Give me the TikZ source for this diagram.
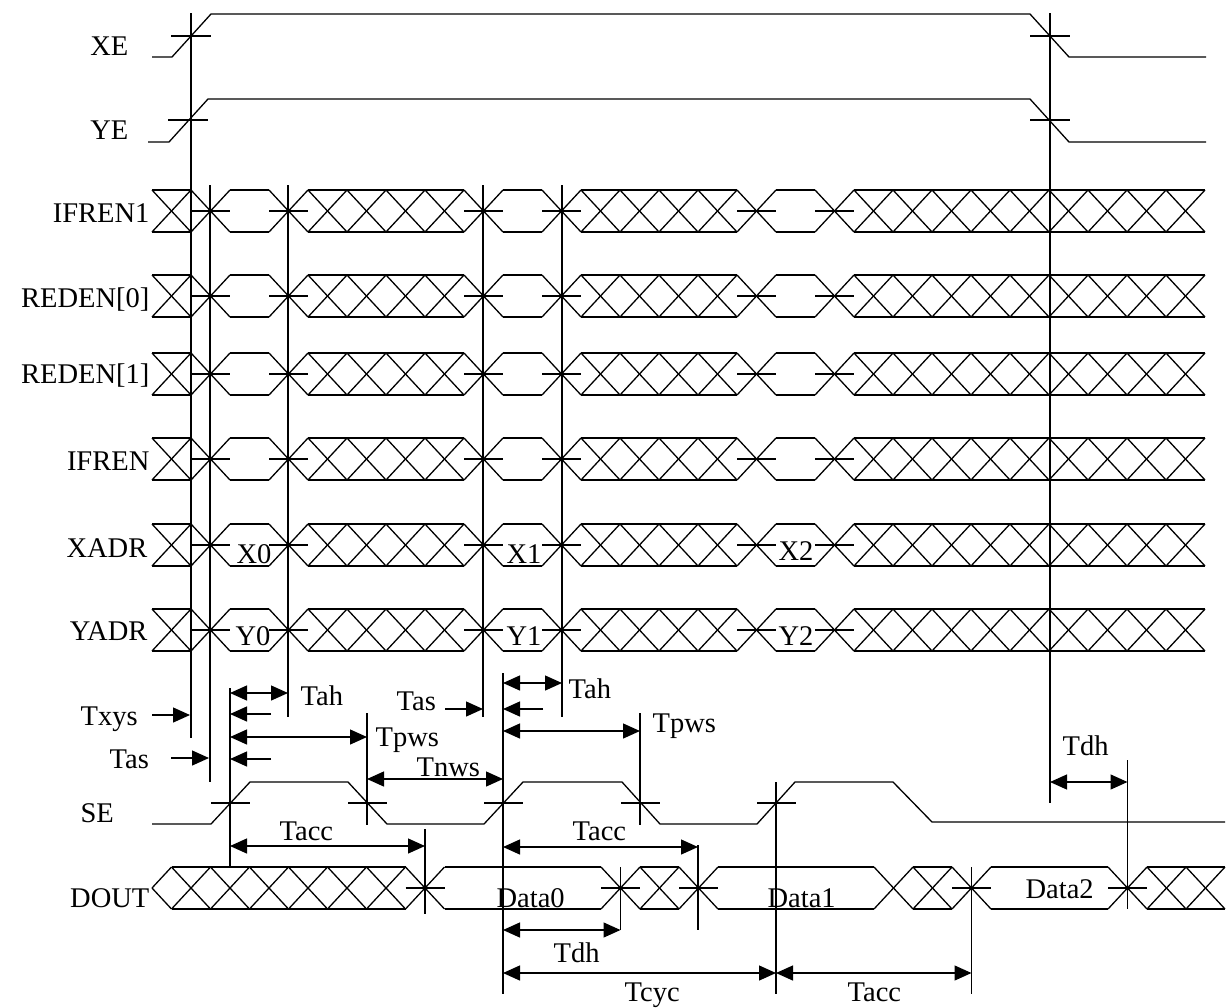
\documentclass[tikz,border=0pt]{standalone}
\usepackage{fontspec}
\setmainfont{Liberation Serif}
\usetikzlibrary{arrows.meta}
\newcommand\busrow[1]{%
  \pgfmathsetmacro\busyt{#1-21}\pgfmathsetmacro\busyb{#1+21}%
  \foreach \k in {0,1,3,4,5,6,7,8,10,11,12,13,14,15,17,18,...,26}{%
    \draw ({152+39*\k},\busyt) -- ({191+39*\k},\busyb);
    \draw ({152+39*\k},\busyb) -- ({191+39*\k},\busyt);}%
  \foreach \a/\b in {152/191,230/269,308/464,503/542,581/737,776/815,854/1205}{%
    \draw (\a,\busyt) -- (\b,\busyt); \draw (\a,\busyb) -- (\b,\busyb);}%
  \foreach \k in {1,3,8,10,15,17}{%
    \draw ({152+39*\k},#1) -- ({191+39*\k},#1);}%
}
\newcommand\doutx[1]{%
  \draw ({#1-19.5},867) -- ({#1+19.5},909);
  \draw ({#1-19.5},909) -- ({#1+19.5},867);}
\begin{document}
\begin{tikzpicture}[x=1pt,y=-1pt,line width=1.3pt,
  lbl/.style={font=\fontsize{28.5}{30}\selectfont, inner sep=0pt},
  tip/.style={-{Triangle[length=17pt,width=15pt]}},
  dtip/.style={{Triangle[length=17pt,width=15pt]}-{Triangle[length=17pt,width=15pt]}}]
\useasboundingbox (0,0) rectangle (1226,1007);

% ---- XE / YE ----
\draw (152,57) -- (172,57) -- (211,14) -- (1030,14) -- (1069,57) -- (1206,57);
\draw (171,36) -- (211,36); \draw (1030,36) -- (1070,36);
\draw (148,142) -- (169,142) -- (208,99) -- (1030,99) -- (1069,142) -- (1206,142);
\draw (168,120) -- (208,120); \draw (1030,120) -- (1070,120);

% ---- bus rows ----
\busrow{211}
\busrow{296}
\busrow{374}
\busrow{459}
\busrow{545}
\busrow{630}

% ---- SE ----
\draw (152,824) -- (211,824) -- (250,782) -- (348,782) -- (387,824) -- (484,824)
  -- (523,782) -- (622,782) -- (660,824) -- (757,824) -- (795,782) -- (893,782)
  -- (932,822) -- (1225,822);
\foreach \a/\b in {211/250,348/387,484/523,621/660,757/796}{\draw (\a,803) -- (\b,803);}

% ---- DOUT ----
\draw (152,888) -- (171.5,867); \draw (152,888) -- (171.5,909);
\foreach \c in {191,230,...,425}{\doutx{\c}}
\foreach \c in {620.5,659.5,698.5,893.5,932.5,971.5,1127.5,1166.5,1205.5}{\doutx{\c}}
\foreach \a/\b in {171.5/405.5,444.5/601,640/679,718/874,913/952,991/1108,1147/1225}{%
  \draw (\a,867) -- (\b,867); \draw (\a,909) -- (\b,909);}
\foreach \c in {425,620.5,698.5,971.5,1127.5}{\draw ({\c-19.5},888) -- ({\c+19.5},888);}

% ---- vertical reference lines ----
\foreach \x/\ya/\yb in {191/13/738, 210/185/782, 288/185/717, 483/185/717, 562/185/717,
  1050/13/803, 230/688/867, 367/713/825, 503/673/994, 640/713/825, 425/829/914,
  698/845/930, 620.5/867/930, 776/782/994, 971.5/867/994, 1127.5/760/909}{%
  \draw (\x,\ya) -- (\x,\yb);}

% ---- dimension arrows ----
\coordinate (a1) at (152,715); \coordinate (b1) at (190,715);
\draw[tip] (a1) -- (b1);
\coordinate (a2) at (171,758); \coordinate (b2) at (209,758);
\draw[tip] (a2) -- (b2);
\draw[dtip] (230,693) -- (288,693);
\draw[tip] (271,714) -- (230,714);
\draw[dtip] (230,737) -- (367,737);
\draw[tip] (271,759) -- (230,759);
\draw[dtip] (367,779) -- (503,779);
\draw[dtip] (230,846) -- (425,846);
\draw[tip] (445,709) -- (483,709);
\draw[dtip] (503,683) -- (562,683);
\draw[tip] (543,709) -- (503,709);
\draw[dtip] (503,731) -- (640,731);
\draw[dtip] (1050,782) -- (1127.5,782);
\draw[dtip] (503,847) -- (698,847);
\draw[dtip] (503,930) -- (620.5,930);
\draw[dtip] (503,973) -- (776,973);
\draw[dtip] (776,973) -- (971.5,973);

% ---- signal labels ----
\node[lbl,anchor=base east] (lxe) at (129,55) {XE};
\node[lbl,anchor=base east] (lye) at (129,139.5) {YE};
\node[lbl,anchor=base east] (lif1) at (150,222.5) {IFREN1};
\node[lbl,anchor=base east] (lre0) at (150,307.5) {REDEN[0]};
\node[lbl,anchor=base east] (lre1) at (150,383) {REDEN[1]};
\node[lbl,anchor=base east] (lif) at (150,470.5) {IFREN};
\node[lbl,anchor=base east] (lxa) at (148,557.5) {XADR};
\node[lbl,anchor=base east] (lya) at (148,640) {YADR};
\node[lbl,anchor=base west] (lse) at (80,822) {SE};
\node[lbl,anchor=base east] (ldo) at (150,907) {DOUT};

% ---- values ----
\node[lbl,anchor=base west] (x0) at (236,563) {X0};
\node[lbl,anchor=base west] (y0) at (235,645) {Y0};
\node[lbl,anchor=base west] (x1) at (506,563) {X1};
\node[lbl,anchor=base west] (y1) at (506,645) {Y1};
\node[lbl,anchor=base west] (x2) at (778,560) {X2};
\node[lbl,anchor=base west] (y2) at (778,645) {Y2};
\node[lbl,anchor=base west] (d0) at (496,907) {Data0};
\node[lbl,anchor=base west] (d1) at (767,907) {Data1};
\node[lbl,anchor=base west] (d2) at (1025,898) {Data2};

% ---- timing labels ----
\node[lbl,anchor=base west] (ttxys) at (80,725) {Txys};
\node[lbl,anchor=base west] (ttas1) at (109,768) {Tas};
\node[lbl,anchor=base west] (ttah1) at (300,705) {Tah};
\node[lbl,anchor=base west] (ttas2) at (396,710) {Tas};
\node[lbl,anchor=base west] (ttpws1) at (375,746) {Tpws};
\node[lbl,anchor=base west] (ttnws) at (416,776) {Tnws};
\node[lbl,anchor=base west] (ttacc1) at (279,840) {Tacc};
\node[lbl,anchor=base west] (ttah2) at (568,698) {Tah};
\node[lbl,anchor=base west] (ttpws2) at (652,732) {Tpws};
\node[lbl,anchor=base west] (ttdh1) at (1062,755) {Tdh};
\node[lbl,anchor=base west] (ttacc2) at (572,840) {Tacc};
\node[lbl,anchor=base west] (ttdh2) at (553,962) {Tdh};
\node[lbl,anchor=base west] (ttcyc) at (624,1001) {Tcyc};
\node[lbl,anchor=base west] (ttacc3) at (847,1001) {Tacc};
\end{tikzpicture}
\end{document}
